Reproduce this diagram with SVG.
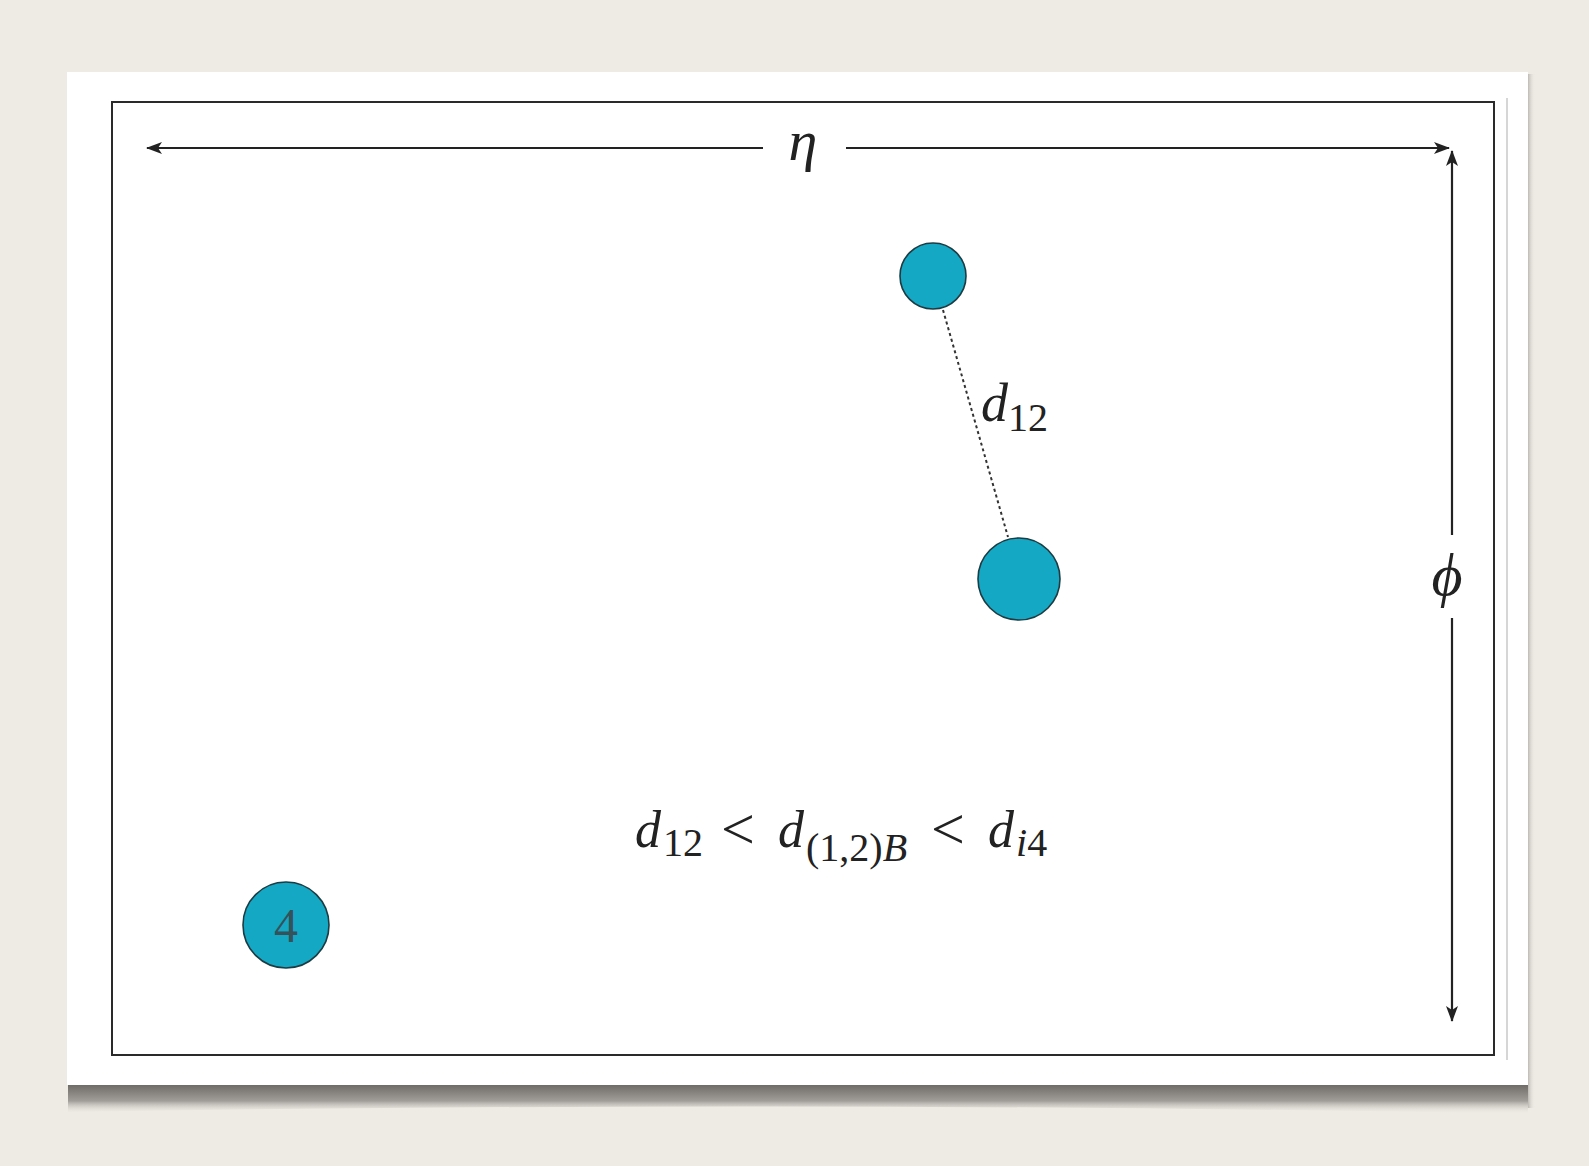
<svg xmlns="http://www.w3.org/2000/svg" width="1589" height="1166" viewBox="0 0 1589 1166">
<defs>
  <marker id="ah" viewBox="0 0 16 12" refX="15" refY="6" markerWidth="16" markerHeight="12" orient="auto-start-reverse" markerUnits="userSpaceOnUse">
    <path d="M0,0 L16,6 L0,12 L4,6 Z" fill="#222"/>
  </marker>
  <linearGradient id="shadow" x1="0" y1="0" x2="0" y2="1">
    <stop offset="0" stop-color="#6f6b67"/>
    <stop offset="0.55" stop-color="#a19d98"/>
    <stop offset="1" stop-color="#eeebe5" stop-opacity="0"/>
  </linearGradient>
  <linearGradient id="shadowR" x1="0" y1="0" x2="1" y2="0">
    <stop offset="0" stop-color="#bdb9b4"/>
    <stop offset="1" stop-color="#eeebe5" stop-opacity="0"/>
  </linearGradient>
</defs>
<style>
  .node { fill: #14a8c4; stroke: #1d3b42; stroke-width: 1.6; }
  .dim { stroke: #222; stroke-width: 2.2; fill: none; }
  .math { fill: #222; }
  .it { font-style: italic; }
</style>
<rect x="0" y="0" width="1589" height="1166" fill="#eeebe5"/>
<!-- card shadow -->
<path d="M68,1085 L1528,1085 L1528,1114 Q800,1100 68,1112 Z" fill="url(#shadow)"/>
<rect x="1528" y="74" width="7" height="1034" fill="url(#shadowR)"/>
<!-- card -->
<rect x="67" y="72" width="1461" height="1013" fill="#ffffff"/>
<line x1="1507" y1="98" x2="1507" y2="1060" stroke="#c9c9c9" stroke-width="1.5"/>
<rect x="112" y="102" width="1382" height="953" fill="#ffffff" stroke="#2a2a2a" stroke-width="2"/>

<g id="connectors">
  <line class="dim" x1="147" y1="148" x2="763" y2="148" marker-start="url(#ah)"/>
  <line class="dim" x1="846" y1="148" x2="1449" y2="148" marker-end="url(#ah)"/>
  <line class="dim" x1="1452" y1="151" x2="1452" y2="535" marker-start="url(#ah)"/>
  <line class="dim" x1="1452" y1="618" x2="1452" y2="1021" marker-end="url(#ah)"/>
  <line x1="943" y1="310" x2="1008" y2="537" stroke="#333" stroke-width="2" stroke-dasharray="3,3"/>
</g>

<g id="label-eta"><text class="math it" font-family="'Liberation Serif', 'Times New Roman', 'DejaVu Serif', serif" x="803" y="160" font-size="58" text-anchor="middle">η</text></g>
<g id="label-phi"><text class="math it" font-family="'Liberation Serif', 'Times New Roman', 'DejaVu Serif', serif" x="1447" y="595" font-size="60" text-anchor="middle">ϕ</text></g>

<g id="node1"><circle class="node" cx="933" cy="276" r="33"/></g>
<g id="node2"><circle class="node" cx="1019" cy="579" r="41"/></g>
<g id="node4"><circle class="node" cx="286" cy="925" r="43"/>
  <text font-family="'Liberation Serif', 'Times New Roman', 'DejaVu Serif', serif" x="286" y="942" font-size="48" text-anchor="middle" fill="#35515a">4</text></g>

<g id="label-d12">
  <text class="math" font-family="'Liberation Serif', 'Times New Roman', 'DejaVu Serif', serif" y="421" font-size="54"><tspan class="it" x="981">d</tspan><tspan x="1008" y="431" font-size="40">12</tspan></text>
</g>

<g id="formula">
  <text class="math" font-family="'Liberation Serif', 'Times New Roman', 'DejaVu Serif', serif" y="847" font-size="52">
    <tspan class="it" x="635">d</tspan><tspan x="663" y="856" font-size="40">12</tspan><tspan x="721" y="849" font-size="60">&lt;</tspan><tspan class="it" x="778" y="847">d</tspan><tspan x="806" y="861" font-size="40">(1,2)</tspan><tspan class="it" y="861" font-size="40">B</tspan><tspan x="931" y="849" font-size="60">&lt;</tspan><tspan class="it" x="988" y="847">d</tspan><tspan class="it" x="1016" y="856" font-size="40">i</tspan><tspan y="856" font-size="40">4</tspan>
  </text>
</g>
</svg>
